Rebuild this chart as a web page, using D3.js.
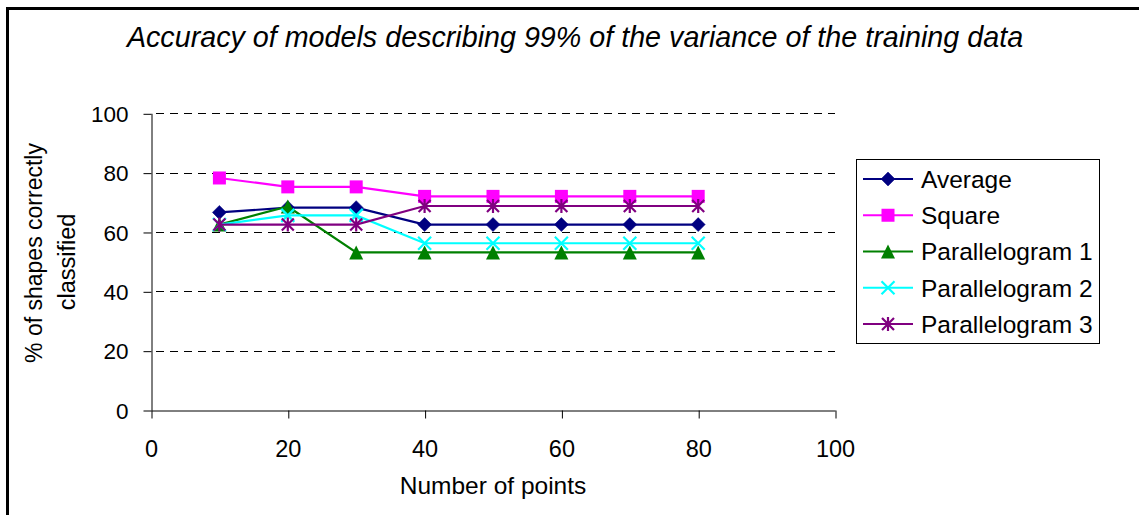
<!DOCTYPE html>
<html>
<head>
<meta charset="utf-8">
<script src="https://cdn.jsdelivr.net/npm/d3@7"></script>
<style>
  html, body { margin: 0; padding: 0; background: #fff; }
  svg { display: block; }
  text { font-family: "Liberation Sans", Arial, sans-serif; fill: #000; }
</style>
</head>
<body>
<svg id="chart" width="1139" height="515"></svg>
<script>
// ---- data ----
const xValues = [10, 20, 30, 40, 50, 60, 70, 80];
const seriesNames = ["Average", "Square", "Parallelogram 1", "Parallelogram 2", "Parallelogram 3"];
const averageVals = [66.6, 68.2, 68.2, 62.5, 62.5, 62.5, 62.5, 62.5];
const squareVals = [78.2, 75.2, 75.2, 72.0, 72.0, 72.0, 72.0, 72.0];
const para1Vals = [62.5, 68.6, 53.1, 53.1, 53.1, 53.1, 53.1, 53.1];
const para2Vals = [62.5, 65.6, 65.6, 56.2, 56.2, 56.2, 56.2, 56.2];
const para3Vals = [62.5, 62.5, 62.5, 68.75, 68.75, 68.75, 68.75, 68.75];
const xTicks = [0, 20, 40, 60, 80, 100];
const yTicks = [0, 20, 40, 60, 80, 100];
const titleText = "Accuracy of models describing 99% of the variance of the training data";
const xTitle = "Number of points";
const yTitleLines = ["% of shapes correctly", "classified"];

const seriesVals = [averageVals, squareVals, para1Vals, para2Vals, para3Vals];
const colors = ["#000080", "#FF00FF", "#008000", "#00FFFF", "#800080"];
const markers = ["diamond", "square", "triangle", "x", "star"];

const svg = d3.select("#chart");

// outer frame
svg.append("rect").attr("x", 7.5).attr("y", 8.5).attr("width", 1200).attr("height", 600)
  .attr("fill", "none").attr("stroke", "#000").attr("stroke-width", 3);

const x = d3.scaleLinear().domain([0, 100]).range([151, 835]);
const y = d3.scaleLinear().domain([0, 100]).range([410, 113.3]);

// title
svg.append("text").attr("x", 575).attr("y", 47).attr("text-anchor", "middle")
  .style("font-size", "28.7px").style("font-style", "italic").text(titleText);

// gridlines
svg.append("g").selectAll("line").data(yTicks.filter(d => d > 0)).join("line")
  .attr("x1", x(0)).attr("x2", x(100))
  .attr("y1", d => Math.round(y(d)) + 0.5).attr("y2", d => Math.round(y(d)) + 0.5)
  .attr("stroke", "#000").attr("stroke-width", 1).attr("stroke-dasharray", "8,6")
  .attr("stroke-dashoffset", -5);

// axes
const yAxis = d3.axisLeft(y).tickValues(yTicks).tickSize(8).tickSizeOuter(0).tickFormat(d3.format("d"));
const gy = svg.append("g").attr("transform", `translate(${x(0) + 0.5},0)`).call(yAxis);
gy.selectAll(".tick line").attr("transform", "translate(0,0.5)");
gy.selectAll("text").attr("x", -23).attr("dy", "0.36em").style("font-size", "22.5px");
const xAxis = d3.axisBottom(x).tickValues(xTicks).tickSize(8).tickSizeOuter(0).tickFormat(d3.format("d"));
const gx = svg.append("g").attr("transform", `translate(0,${Math.round(y(0)) + 0.5})`).call(xAxis);
gx.selectAll(".tick line").attr("transform", "translate(0.5,0)");
gx.selectAll("text").attr("y", 46).attr("dy", 0).style("font-size", "23.5px");
svg.selectAll(".domain").attr("stroke", "#000");
svg.selectAll(".tick line").attr("stroke", "#000");
svg.selectAll(".tick text").style("font-family", "'Liberation Sans', Arial, sans-serif").attr("fill", "#000");

// axis titles
svg.append("text").attr("x", x(50)).attr("y", 494).attr("text-anchor", "middle")
  .style("font-size", "24.5px").text(xTitle);
svg.append("text").attr("transform", "translate(42,253) rotate(-90)").attr("text-anchor", "middle")
  .style("font-size", "23px").text(yTitleLines[0]);
svg.append("text").attr("transform", "translate(75,262) rotate(-90)").attr("text-anchor", "middle")
  .style("font-size", "23.5px").text(yTitleLines[1]);

// marker drawing
function drawMarker(g, type, cx, cy, color) {
  if (type === "diamond") {
    const r = 7;
    g.append("path").attr("d", `M${cx},${cy - r}L${cx + r},${cy}L${cx},${cy + r}L${cx - r},${cy}Z`)
      .attr("fill", color).attr("stroke", color).attr("stroke-width", 0.5);
  } else if (type === "square") {
    const r = 6.5;
    g.append("rect").attr("x", cx - r).attr("y", cy - r).attr("width", 2 * r).attr("height", 2 * r)
      .attr("fill", color);
  } else if (type === "triangle") {
    const r = 7;
    g.append("path").attr("d", `M${cx},${cy - r}L${cx + r},${cy + r}L${cx - r},${cy + r}Z`)
      .attr("fill", color);
  } else if (type === "x") {
    const r = 6.5;
    g.append("path").attr("d", `M${cx - r},${cy - r}L${cx + r},${cy + r}M${cx - r},${cy + r}L${cx + r},${cy - r}`)
      .attr("stroke", color).attr("stroke-width", 2.2).attr("fill", "none");
  } else if (type === "star") {
    const r = 6;
    g.append("path").attr("d", `M${cx - r},${cy - r}L${cx + r},${cy + r}M${cx - r},${cy + r}L${cx + r},${cy - r}M${cx},${cy - r - 1}L${cx},${cy + r + 1}`)
      .attr("stroke", color).attr("stroke-width", 2.2).attr("fill", "none");
  }
}

// series
const line = d3.line().x((d, i) => x(xValues[i])).y(d => y(d));
seriesVals.forEach((vals, si) => {
  const g = svg.append("g");
  g.append("path").attr("d", line(vals)).attr("fill", "none")
    .attr("stroke", colors[si]).attr("stroke-width", 2.2);
  vals.forEach((v, i) => drawMarker(g, markers[si], x(xValues[i]), y(v), colors[si]));
});

// legend
const lg = svg.append("g");
lg.append("rect").attr("x", 856.5).attr("y", 159.5).attr("width", 243).attr("height", 184)
  .attr("fill", "#fff").attr("stroke", "#000").attr("stroke-width", 1);
const rowY = d3.scaleLinear().domain([0, 4]).range([179, 324]);
seriesNames.forEach((name, si) => {
  const cy = rowY(si);
  lg.append("line").attr("x1", 863).attr("x2", 913).attr("y1", cy).attr("y2", cy)
    .attr("stroke", colors[si]).attr("stroke-width", 2.2);
  drawMarker(lg, markers[si], 888, cy, colors[si]);
  lg.append("text").attr("x", 921).attr("y", cy + 8.8).style("font-size", "24.5px").text(name);
});
</script>
</body>
</html>
